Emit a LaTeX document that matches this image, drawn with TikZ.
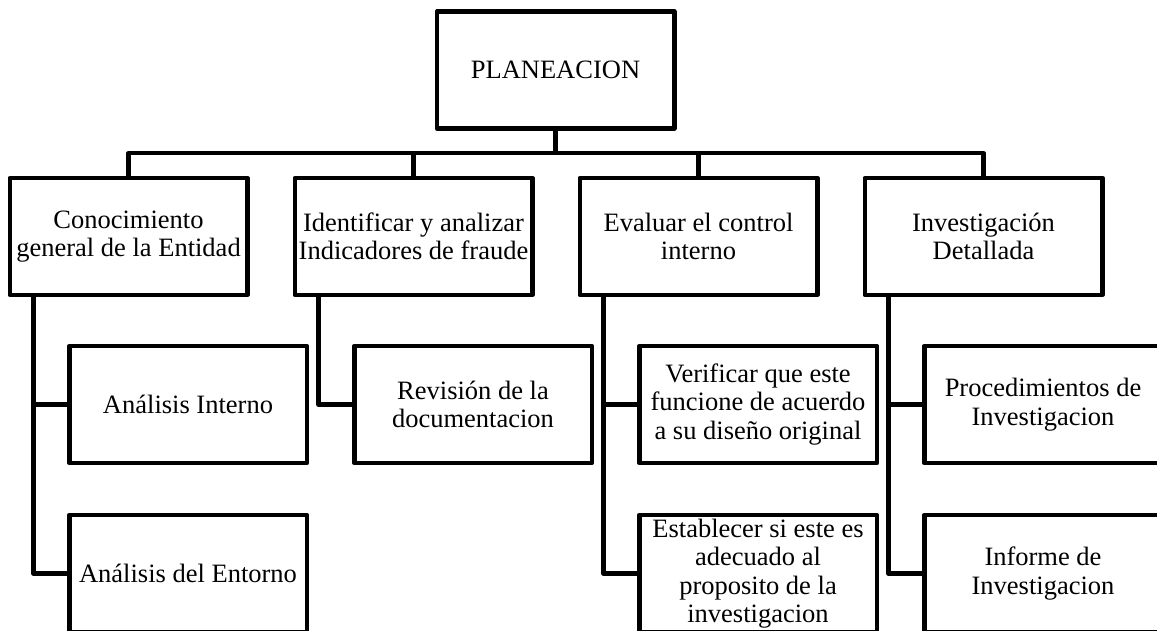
\documentclass[tikz,border=0pt]{standalone}
\usepackage{fontspec}
\setmainfont{Liberation Serif}
\usetikzlibrary{positioning,calc}

\begin{document}
\begin{tikzpicture}[x=1pt,y=1pt]
\tikzset{
    top-box/.style={
        draw,
        rectangle,
        line width=4.5pt,
        line join=round,
        outer sep=0pt,
        inner sep=2pt,
        minimum width=237.5pt,
        minimum height=117pt,
        align=center,
        font=\fontsize{26.5}{28.5}\selectfont,
    },
    sub-box/.style={
        top-box,
    },
    link/.style={ % elbow connectors
        draw,
        line width=4.5pt,
        line join=round,
    },
}
\path[use as bounding box,fill=white] (0,0) rectangle (1157,630);
\clip (0,0) rectangle (1157,630);

\node[top-box] (plan) at (555.5,560) {PLANEACION};

\node[top-box] (cono) at (128.5,393.5) {Conocimiento\\general de la Entidad};
\node[top-box,right=47.5pt of cono] (iden) {Identificar y analizar\\Indicadores de fraude};
\node[top-box,right=47.5pt of iden] (eval) {Evaluar el control\\interno};
\node[top-box,right=47.5pt of eval] (inve) {Investigación\\Detallada};

\node[sub-box,below=51pt of cono,xshift=59.5pt] (anint) {Análisis Interno};
\node[sub-box,below=52pt of anint] (anent) {Análisis del Entorno};
\node[sub-box,below=51pt of iden,xshift=59.5pt] (revi) {Revisión de la\\documentacion};
\node[sub-box,below=51pt of eval,xshift=59.5pt] (veri) {Verificar que este\\funcione de acuerdo\\a su diseño original};
\node[sub-box,below=52pt of veri] (esta) {Establecer si este es\\adecuado al\\proposito de la\\investigacion};
\node[sub-box,below=51pt of inve,xshift=59.5pt] (proc) {Procedimientos de\\Investigacion};
\node[sub-box,below=52pt of proc] (info) {Informe de\\Investigacion};

% root to first level
\coordinate (bus) at ($(plan.south)!.5!(plan.south |- cono.north)$);
\draw[link] (plan.south) -- (bus);
\foreach \n in {cono,iden,eval,inve}
    \draw[link] (bus) -| (\n.north);

% first level to second level
\draw[link] ([xshift=23.5pt]cono.south west) |- (anint.west);
\draw[link] ([xshift=23.5pt]cono.south west) |- (anent.west);
\draw[link] ([xshift=23.5pt]iden.south west) |- (revi.west);
\draw[link] ([xshift=23.5pt]eval.south west) |- (veri.west);
\draw[link] ([xshift=23.5pt]eval.south west) |- (esta.west);
\draw[link] ([xshift=23.5pt]inve.south west) |- (proc.west);
\draw[link] ([xshift=23.5pt]inve.south west) |- (info.west);
\end{tikzpicture}
\end{document}
